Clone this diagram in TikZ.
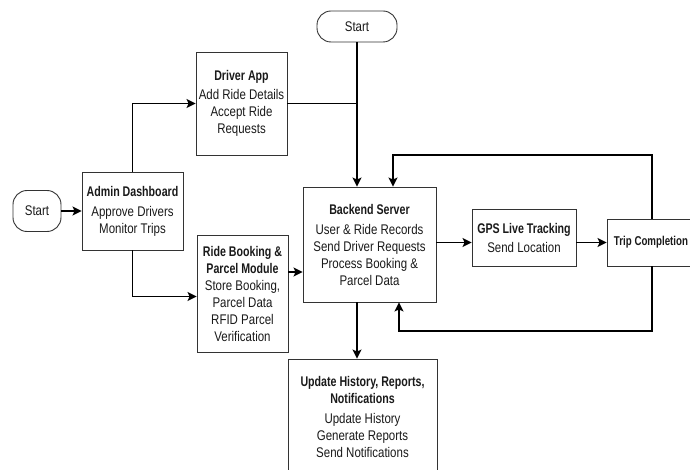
\documentclass[tikz,border=0pt]{standalone}
\usepackage{fontspec}
\setmainfont[FakeStretch=0.82,BoldFeatures={FakeStretch=0.76}]{Liberation Sans}
\usetikzlibrary{arrows.meta}
\definecolor{txt}{HTML}{1A1A1A}
\definecolor{brd}{HTML}{333333}
\tikzset{
  box/.style={draw=brd,line width=0.9pt,fill=white,align=center,inner sep=1pt,
    text=txt,font=\fontsize{14}{17}\selectfont},
  startbox/.style={box,rounded corners=14pt},
  conn/.style={line width=1.4pt,black},
  arr/.style={conn,-{Stealth[length=9pt,width=9pt,inset=2pt]}}
}
\begin{document}
\begin{tikzpicture}[x=1pt,y=-1pt]
\useasboundingbox (0,0) rectangle (690,470);
\node[startbox,minimum width=48pt,minimum height=41pt] (start1) at (37,211) {Start};
\node[box,minimum width=101pt,minimum height=78pt] (admin) at (132.5,211)
  {\textbf{Admin Dashboard}\\[3pt]Approve Drivers\\Monitor Trips};
\node[box,minimum width=91pt,minimum height=103pt] (driver) at (241.5,103.5)
  {\textbf{Driver App}\\[2pt]Add Ride Details\\Accept Ride\\Requests};
\node[startbox,minimum width=80pt,minimum height=31pt] (start2) at (357,26.5) {Start};
\node[box,minimum width=91pt,minimum height=117pt] (ride) at (242.5,293.5)
  {\textbf{Ride Booking \&}\\\textbf{Parcel Module}\\Store Booking,\\Parcel Data\\RFID Parcel\\Verification};
\node[box,minimum width=133pt,minimum height=115pt] (backend) at (369.5,244.5)
  {\textbf{Backend Server}\\[3pt]User \& Ride Records\\Send Driver Requests\\Process Booking \&\\Parcel Data};
\node[box,minimum width=104pt,minimum height=57pt] (gps) at (524,237.5)
  {\textbf{GPS Live Tracking}\\[2pt]Send Location};
\node[box,minimum width=88pt,minimum height=47pt,
  font=\fontsize{12.8}{17}\selectfont] (trip) at (651,242.5)
  {\textbf{Trip Completion}};
\node[box,minimum width=149pt,minimum height=116pt] (update) at (362.5,417)
  {\textbf{Update History, Reports,}\\\textbf{Notifications}\\[3pt]Update History\\Generate Reports\\Send Notifications};
\coordinate (fb1) at (652,155);
\coordinate (fb2) at (393,155);
\coordinate (bt1) at (652,331);
\coordinate (bt2) at (399,331);
\draw[arr] (start1) -- (admin);
\draw[arr] (admin.north) |- (driver.west);
\draw[conn] (driver.east) -- (driver.east -| start2.south);
\draw[arr] (start2.south) -- (start2.south |- backend.north);
\draw[arr] (admin.south) |- ([yshift=-3pt]ride.west);
\draw[arr] ([yshift=21.5pt]ride.east) -- ([yshift=21.5pt]ride.east -| backend.west);
\draw[arr] (backend.east |- trip.west) -- (gps.west |- trip.west);
\draw[arr] (gps.east |- trip.west) -- (trip.west);
\draw[arr] (trip.north -| fb1) -- (fb1) -- (fb2) -- (fb2 |- backend.north);
\draw[arr] (trip.south -| bt1) -- (bt1) -- (bt2) -- (bt2 |- backend.south);
\draw[arr] (start2.south |- backend.south) -- (start2.south |- update.north);
\end{tikzpicture}
\end{document}
